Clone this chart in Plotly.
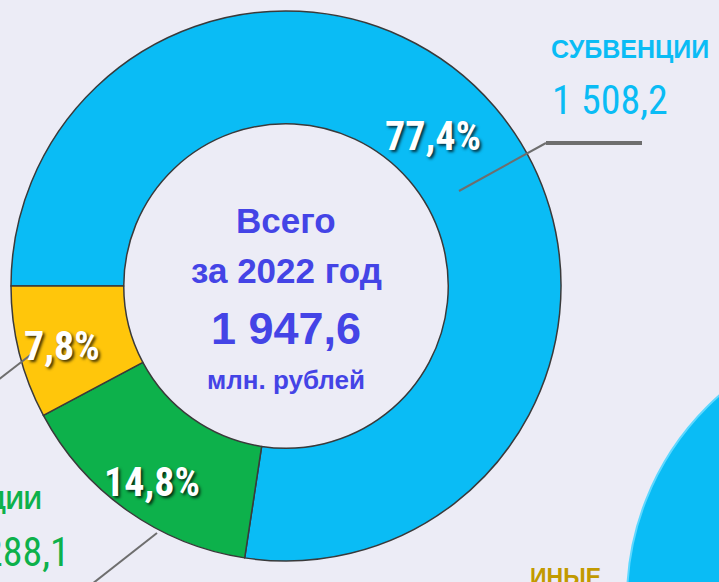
import plotly.graph_objects as go

# ── Data ──────────────────────────────────────────────────────────────────────
categories = ["СУБВЕНЦИИ", "СУБСИДИИ", "ИНЫЕ"]
amounts = [1508.2, 288.1, 151.3]          # млн. рублей
shares = [77.4, 14.8, 7.8]                 # %
total_amount = 1947.6
year = 2022

_COLORS = {
    "subv": "#0ABCF5",
    "subs": "#0DB14B",
    "other": "#FFC60B",
    "center": "#4444E6",
    "other_text": "#C29A00",
    "leader": "#6E6E6E",
    "bg": "#ECECF6",
}

W, H = 719, 582
NARROW = ("Noto Sans ExtraCondensed, Noto Sans Condensed, Roboto Condensed, "
          "Liberation Sans Narrow, DejaVu Sans Condensed, sans-serif")
BOLD = "Liberation Sans, Arial, sans-serif"


def fmt(v, nd=1):
    return f"{v:,.{nd}f}".replace(",", " ").replace(".", ",")


def px(x, y):
    """pixel -> paper coords"""
    return x / W, 1 - y / H


fig = go.Figure()

fig.add_trace(go.Pie(
    labels=categories,
    values=shares,
    textinfo="none",
    hole=0.59,
    sort=False,
    direction="clockwise",
    rotation=-90,
    marker=dict(colors=[_COLORS["subv"], _COLORS["subs"], _COLORS["other"]],
                line=dict(color="#3A3A3A", width=1.5)),
    domain=dict(x=[px(11, 0)[0], px(561, 0)[0]], y=[px(0, 561)[1], px(0, 11)[1]]),
    showlegend=False,
    hoverinfo="label+value+percent",
))

annotations = []


def label(txt, x, y, anchor, size, color, family, weight="bold", shadow=None):
    xp, yp = px(x, y)
    font = dict(family=family, size=size, color=color, weight=weight)
    if shadow:
        font["shadow"] = shadow
    annotations.append(dict(
        x=xp, y=yp, xref="paper", yref="paper", text=txt, showarrow=False,
        xanchor=anchor, yanchor="middle", font=font,
    ))


# ── Percent labels on the ring ────────────────────────────────────────────────
pct_pos = [(433, 136), (152, 482), (62, 346)]
for s, (x, y) in zip(shares, pct_pos):
    label(fmt(s) + "%", x, y, "center", 40, "white", NARROW,
          shadow="2px 2px 3px rgba(0,0,0,0.75)")

# ── Centre text ───────────────────────────────────────────────────────────────
cx = 286
center_lines = [
    ("Всего", 220, 35),
    (f"за {year} год", 270, 35),
    (fmt(total_amount), 328, 45),
    ("млн. рублей", 380, 26),
]
for txt, y, size in center_lines:
    label(txt, cx, y, "center", size, _COLORS["center"], BOLD)

# ── Outer labels ──────────────────────────────────────────────────────────────
label(categories[0], 549, 49, "left", 25, _COLORS["subv"], BOLD)
label(fmt(amounts[0]), 550, 100, "left", 40, _COLORS["subv"], NARROW, "normal")
label(categories[1], 44, 500, "right", 25, _COLORS["subs"], BOLD)
label(fmt(amounts[1]), 72, 552, "right", 40, _COLORS["subs"], NARROW, "normal")
label(categories[2], 528, 577, "left", 23, _COLORS["other_text"], BOLD)

# ── Leader lines ──────────────────────────────────────────────────────────────
shapes = []


def seg(x0, y0, x1, y1, width=2):
    a, b = px(x0, y0)
    c, d = px(x1, y1)
    shapes.append(dict(type="line", xref="paper", yref="paper", x0=a, y0=b, x1=c, y1=d,
                       line=dict(color=_COLORS["leader"], width=width)))


seg(459, 191, 546, 143)
seg(546, 143, 642, 143, 4)
seg(157, 533, 92, 584)
seg(33, 353, -2, 380)

# neighbouring chart peeking in at the bottom right
a, b = px(627, 873)
c, d = px(1173, 327)
shapes.append(dict(type="circle", xref="paper", yref="paper", x0=a, y0=b, x1=c, y1=d,
                   fillcolor=_COLORS["subv"], line=dict(color="#5FD8FF", width=2),
                   layer="below"))

fig.update_layout(
    width=W, height=H,
    margin=dict(l=0, r=0, t=0, b=0),
    paper_bgcolor=_COLORS["bg"],
    plot_bgcolor=_COLORS["bg"],
    annotations=annotations,
    shapes=shapes,
)

fig.write_html("out.html", config={"displayModeBar": False},
               post_script="document.body.style.margin='0px';")
